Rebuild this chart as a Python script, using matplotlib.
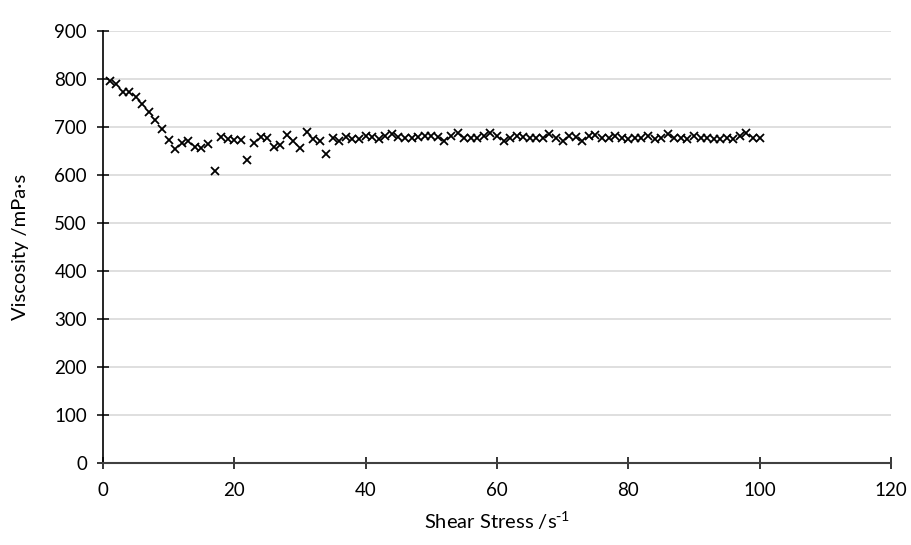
import matplotlib
matplotlib.use("Agg")
import matplotlib.pyplot as plt

plt.rcParams['font.family'] = ['Lato', 'DejaVu Sans']

shear = list(range(1, 101))
viscosity = [
    795, 790, 773, 774, 763, 748, 731, 714, 697, 674,
    654, 666, 672, 658, 656, 665, 609, 680, 676, 674,
    674, 631, 667, 679, 677, 658, 662, 683, 672, 657,
    690, 676, 672, 643, 678, 672, 679, 676, 676, 681,
    679, 676, 681, 685, 679, 677, 677, 679, 681, 681,
    679, 672, 681, 687, 678, 678, 678, 681, 688, 681,
    672, 678, 681, 680, 678, 678, 678, 685, 678, 672,
    681, 680, 671, 681, 683, 678, 678, 681, 678, 675,
    678, 678, 681, 675, 678, 685, 678, 678, 675, 681,
    678, 678, 675, 675, 678, 675, 681, 688, 678, 678,
]
xticks = [0, 20, 40, 60, 80, 100, 120]
yticks = [0, 100, 200, 300, 400, 500, 600, 700, 800, 900]

fig = plt.figure(figsize=(9.11, 5.45), dpi=100)
ax = fig.add_axes([0.113, 0.150, 0.865, 0.793])

ax.plot(shear, viscosity, linestyle='none', marker='x', color='black',
        markersize=5.5, markeredgewidth=1.3, zorder=3)

ax.set_xlim(0, 120)
ax.set_ylim(0, 900)
ax.set_xticks(xticks)
ax.set_yticks(yticks)
ax.yaxis.grid(True, color='#d9d9d9', linewidth=1.2)
ax.set_axisbelow(True)

for s in ['top', 'right']:
    ax.spines[s].set_visible(False)
ax.spines['left'].set_color('black')
ax.spines['left'].set_linewidth(1.2)
ax.spines['bottom'].set_color('#404040')
ax.spines['bottom'].set_linewidth(1.5)

ax.tick_params(axis='both', direction='inout', length=9, width=1.1,
               labelsize=13.5, colors='black')
ax.tick_params(axis='x', pad=9)
ax.tick_params(axis='y', pad=7)

ax.set_xlabel('Shear Stress /s$\\mathregular{^{\\text{-}1}}$', fontsize=14.5, labelpad=8)
ax.set_ylabel('Viscosity /mPa·s', fontsize=14.5, labelpad=18)

fig.savefig('out.png', dpi=100)
